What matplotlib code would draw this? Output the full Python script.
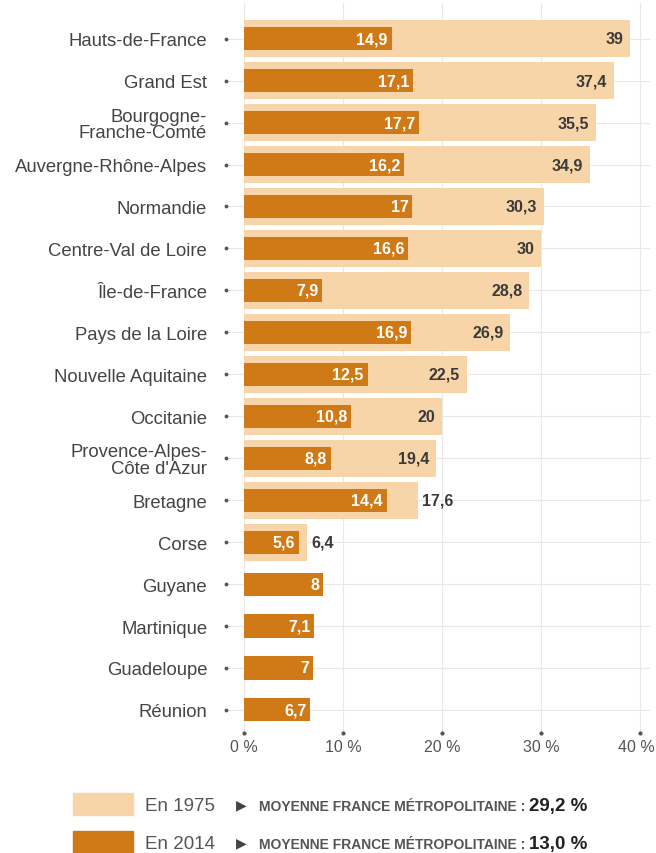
import numpy as np
import matplotlib
matplotlib.use("Agg")
import matplotlib.pyplot as plt
from matplotlib.patches import Rectangle
from matplotlib.transforms import ScaledTranslation

plt.rcParams['font.family'] = ['Liberation Sans', 'DejaVu Sans']

regions = ['Hauts-de-France', 'Grand Est', 'Bourgogne-\nFranche-Comté', 'Auvergne-Rhône-Alpes',
           'Normandie', 'Centre-Val de Loire', 'Île-de-France', 'Pays de la Loire',
           'Nouvelle Aquitaine', 'Occitanie', 'Provence-Alpes-\nCôte d\'Azur', 'Bretagne',
           'Corse', 'Guyane', 'Martinique', 'Guadeloupe', 'Réunion']
v1975 = [39, 37.4, 35.5, 34.9, 30.3, 30, 28.8, 26.9, 22.5, 20, 19.4, 17.6, 6.4,
         np.nan, np.nan, np.nan, np.nan]
v2014 = [14.9, 17.1, 17.7, 16.2, 17, 16.6, 7.9, 16.9, 12.5, 10.8, 8.8, 14.4, 5.6,
         8, 7.1, 7, 6.7]
xticks = [0, 10, 20, 30, 40]
legend_labels = ['En 1975', 'En 2014']
moyennes = ['29,2 %', '13,0 %']

light = '#F8D5A9'
dark = '#D07A17'
grid_c = '#E8E8E8'

W, H = 656, 854
fig = plt.figure(figsize=(W / 100, H / 100), dpi=100)
ax = fig.add_axes([244 / W, 1 - 734 / H, 406 / W, 730 / H])

y = np.arange(len(regions))
ax.set_xlim(0, 41)
ax.set_ylim(16.55, -0.85)

# grid
for xt in xticks:
    ax.axvline(xt, color=grid_c, lw=0.8, zorder=0)
ax.hlines(y, -1.8, 41, color=grid_c, lw=0.8, zorder=0, clip_on=False)
ax.scatter([-1.8] * len(y), y, s=3, color='#555555', clip_on=False, zorder=3)
ax.scatter(xticks, [16.55] * len(xticks), s=4, color='#555555', clip_on=False, zorder=3)

ax.barh(y, v1975, height=0.88, color=light, zorder=1)
ax.barh(y, v2014, height=0.55, color=dark, zorder=2)

for i in range(len(regions)):
    a, b = v1975[i], v2014[i]
    ax.text(b - 0.4, i, f"{b:g}".replace('.', ','), color='white', fontweight='bold',
            fontsize=11.5, ha='right', va='center', zorder=4)
    if not np.isnan(a):
        if a - b < 5:
            ax.text(a + 0.4, i, f"{a:g}".replace('.', ','), color='#3a3a3a', fontweight='bold',
                    fontsize=11.5, ha='left', va='center', zorder=4)
        else:
            ax.text(a - 0.7, i, f"{a:g}".replace('.', ','), color='#3a3a3a', fontweight='bold',
                    fontsize=11.5, ha='right', va='center', zorder=4)

for s in ax.spines.values():
    s.set_visible(False)
ax.tick_params(length=0)
ax.set_yticks(y)
ax.set_yticklabels(regions, fontsize=13.3, color='#444444', linespacing=0.95)
ax.tick_params(axis='y', pad=26.5)
ax.set_xticks(xticks)
ax.set_xticklabels([f"{t} %" for t in xticks], fontsize=11.5, color='#555555')
ax.tick_params(axis='x', pad=4)
last = ax.get_xticklabels()[-1]
last.set_transform(last.get_transform() + ScaledTranslation(-0.04, 0, fig.dpi_scale_trans))

# legend
rows_y = [805, 843]
colors = [light, dark]
for k in range(2):
    yc = rows_y[k]
    fig.add_artist(Rectangle((73 / W, 1 - (yc + 11) / H), 60 / W, 22 / H,
                             transform=fig.transFigure, color=colors[k]))
    fig.text(145 / W, 1 - (yc + 6) / H, legend_labels[k], fontsize=13.5, color='#555555',
             va='baseline')
    fig.text(236 / W, 1 - yc / H, '▶', fontsize=10, color='#444444', va='center',
             family='DejaVu Sans')
    t1 = fig.text(259 / W, 1 - (yc + 6) / H, 'MOYENNE FRANCE MÉTROPOLITAINE : ',
                  fontsize=10, fontweight='bold', color='#555555', va='baseline')
    fig.canvas.draw()
    bb = t1.get_window_extent()
    fig.text(bb.x1 / W, 1 - (yc + 6) / H, moyennes[k], fontsize=13.5, fontweight='bold',
             color='#222222', va='baseline')

fig.savefig('out.png', dpi=100)
